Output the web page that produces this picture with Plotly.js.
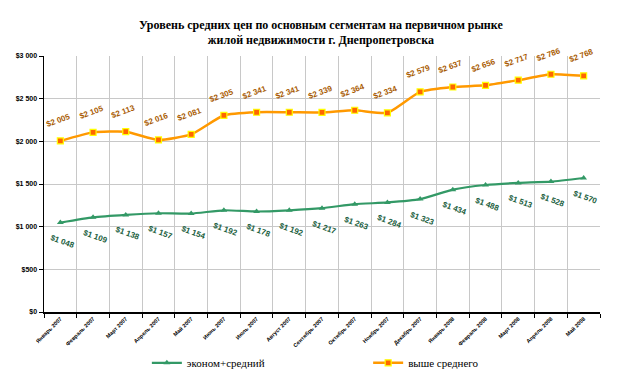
<!DOCTYPE html>
<html>
<head>
<meta charset="utf-8">
<script src="https://cdn.plot.ly/plotly-3.0.1.min.js"></script>
<style>html,body{margin:0;padding:0;background:#fff;}#chart{width:623px;height:382px;}</style>
</head>
<body>
<div id="chart"></div>
<script>
const months = ["Январь 2007","Февраль 2007","Март 2007","Апрель 2007","Май 2007","Июнь 2007","Июль 2007","Август 2007","Сентябрь 2007","Октябрь 2007","Ноябрь 2007","Декабрь 2007","Январь 2008","Февраль 2008","Март 2008","Апрель 2008","Май 2008"];
const economyMid = [1048,1109,1138,1157,1154,1192,1178,1192,1217,1263,1284,1323,1434,1488,1513,1528,1570];
const aboveAvg = [2005,2105,2113,2016,2081,2305,2341,2341,2339,2364,2334,2579,2637,2656,2717,2786,2768];
const yTickVals = [0,500,1000,1500,2000,2500,3000];
const yTickText = ["$0","$500","$1 000","$1 500","$2 000","$2 500","$3 000"];
const seriesNames = ["эконом+средний","выше среднего"];

function fmt(v){const s=String(v);return "$"+(s.length>3? s.slice(0,s.length-3)+" "+s.slice(-3) : s);}

const traces = [
  {x: months, y: economyMid, name: seriesNames[0], type:"scatter", mode:"lines+markers", legend:"legend",
   line:{color:"#339966", width:2.2, shape:"spline", smoothing:0.5},
   marker:{symbol:"triangle-up", size:6, color:"#339966"}},
  {x: months, y: aboveAvg, name: seriesNames[1], type:"scatter", mode:"lines+markers", legend:"legend2",
   line:{color:"#ff9900", width:2.5, shape:"spline", smoothing:0.5},
   marker:{symbol:"square", size:6, color:"#ff6600", line:{color:"#ffff00", width:1.2}}}
];

const annotations = [];
months.forEach((m,i)=>{
  annotations.push({x:m, y:aboveAvg[i], xref:"x", yref:"y", text:"<b>"+fmt(aboveAvg[i])+"</b>",
    showarrow:false, textangle:-20, yshift:20, xshift:-2,
    font:{family:"Liberation Sans, Arial, sans-serif", size:8, color:"#a85a00"}});
  annotations.push({x:m, y:economyMid[i], xref:"x", yref:"y", text:"<b>"+fmt(economyMid[i])+"</b>",
    showarrow:false, textangle:20, yshift:-19, xshift:2,
    font:{family:"Liberation Sans, Arial, sans-serif", size:8, color:"#1a6040"}});
});

const legendFont = {family:"Liberation Serif, Times New Roman, serif", size:11, color:"#000"};
const layout = {
  width:623, height:382,
  margin:{l:44, r:23, t:56, b:70, autoexpand:false},
  paper_bgcolor:"#ffffff", plot_bgcolor:"#ffffff",
  title:{text:"<b>Уровень средних цен по основным сегментам на первичном рынке<br>жилой недвижимости г. Днепропетровска</b>",
    font:{family:"Liberation Serif, Times New Roman, serif", size:12, color:"#000"},
    x:0.515, xanchor:"center", y:0.925, yanchor:"top"},
  xaxis:{type:"category", tickson:"boundaries", showgrid:true, gridcolor:"#c8c8c8", gridwidth:1,
    showline:true, linecolor:"#000", linewidth:1.5, ticks:"outside", ticklen:4, tickcolor:"#000",
    tickangle:-45, automargin:false,
    tickfont:{family:"Liberation Sans, Arial, sans-serif", size:5.5, color:"#000", weight:"bold"},
    range:[-0.5,16.5], fixedrange:true},
  yaxis:{range:[0,3000], tickvals:yTickVals, ticktext:yTickText, showgrid:true, gridcolor:"#c8c8c8", gridwidth:1,
    showline:true, linecolor:"#000", linewidth:1.5, ticks:"outside", ticklen:4, tickcolor:"#000", automargin:false,
    tickfont:{family:"Liberation Sans, Arial, sans-serif", size:7, color:"#000", weight:"bold"}, zeroline:false},
  showlegend:true,
  legend:{orientation:"h", x:0.185, xanchor:"left", y:-0.142, yanchor:"top",
    font:legendFont, bgcolor:"rgba(0,0,0,0)"},
  legend2:{orientation:"h", x:0.583, xanchor:"left", y:-0.142, yanchor:"top",
    font:legendFont, bgcolor:"rgba(0,0,0,0)"},
  annotations: annotations
};

Plotly.newPlot("chart", traces, layout, {displayModeBar:false, staticPlot:true});
</script>
</body>
</html>
